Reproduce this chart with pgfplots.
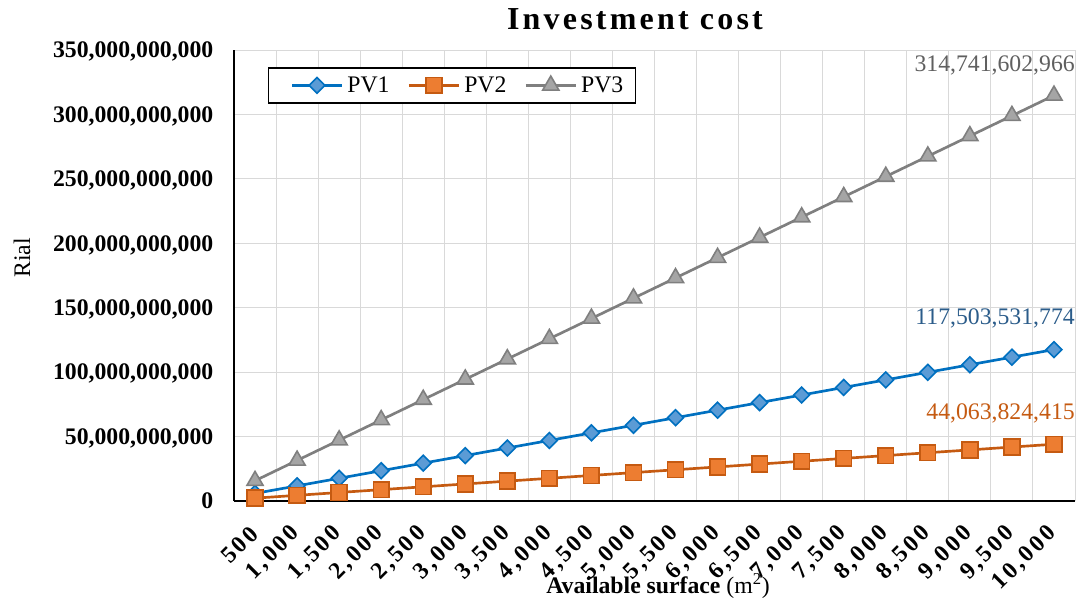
\documentclass[border=0pt]{standalone}
\usepackage{fontspec}
\setmainfont{Liberation Serif}
\usepackage{pgfplots}
\pgfplotsset{compat=1.18}
\definecolor{pvblue}{HTML}{0070C0}
\definecolor{pvbluefill}{HTML}{5B9BD5}
\definecolor{pvorange}{HTML}{C55A11}
\definecolor{pvorangefill}{HTML}{ED7D31}
\definecolor{pvgrey}{HTML}{7F7F7F}
\definecolor{pvgreyfill}{HTML}{A5A5A5}
\definecolor{gridgrey}{HTML}{D9D9D9}
\definecolor{lblblue}{HTML}{2B5C8A}
\definecolor{lblgrey}{HTML}{5F5F5F}
\pgfplotstableread{
x y
0 5875176589
1 11750353177
2 17625529766
3 23500706355
4 29375882944
5 35251059532
6 41126236121
7 47001412710
8 52876589299
9 58751765887
10 64626942476
11 70502119065
12 76377295654
13 82252472242
14 88127648831
15 94002825419
16 99878002008
17 105753178597
18 111628355185
19 117503531774
}\pvone
\pgfplotstableread{
x y
0 2203191221
1 4406382442
2 6609573662
3 8812764883
4 11015956104
5 13219147325
6 15422338545
7 17625529766
8 19828720987
9 22031912208
10 24235103428
11 26438294649
12 28641485870
13 30844677091
14 33047868311
15 35251059532
16 37454250753
17 39657441974
18 41860633194
19 44063824415
}\pvtwo
\pgfplotstableread{
x y
0 15737080148
1 31474160297
2 47211240445
3 62948320593
4 78685400742
5 94422480890
6 110159561038
7 125896641186
8 141633721335
9 157370801483
10 173107881631
11 188844961780
12 204582041928
13 220319122076
14 236056202224
15 251793282373
16 267530362521
17 283267442669
18 299004522818
19 314741602966
}\pvthree
\begin{document}
\begin{tikzpicture}
\useasboundingbox (0,0) rectangle (812.25pt,447.75pt);
\begin{axis}[
  at={(175.5pt,72pt)}, anchor=south west,
  width=630.75pt, height=338.25pt, scale only axis,
  xmin=-0.5, xmax=19.5, ymin=0, ymax=3.5e11,
  scaled y ticks=false,
  axis x line*=bottom, axis y line*=left,
  axis line style={black, line width=1.1pt, -},
  xtick={0,...,19},
  xticklabels={500,{1,000},{1,500},{2,000},{2,500},{3,000},{3,500},{4,000},{4,500},{5,000},{5,500},{6,000},{6,500},{7,000},{7,500},{8,000},{8,500},{9,000},{9,500},{10,000}},
  minor xtick={-0.5,0.5,...,19.5},
  ytick={0,5e10,1e11,1.5e11,2e11,2.5e11,3e11,3.5e11},
  yticklabels={0,{50,000,000,000},{100,000,000,000},{150,000,000,000},{200,000,000,000},{250,000,000,000},{300,000,000,000},{350,000,000,000}},
  major tick length=0pt, minor tick length=0pt,
  xmajorgrids=false, xminorgrids=true, ymajorgrids=true,
  grid style={gridgrey, line width=0.75pt},
  minor grid style={gridgrey, line width=0.75pt},
  yticklabel style={font=\fontsize{17.8}{17.8}\selectfont\bfseries, anchor=base east, xshift=-12pt, yshift=-5.8pt},
  xticklabel style={font=\fontsize{17.8}{17.8}\selectfont\bfseries\addfontfeatures{LetterSpace=12}, anchor=east, xshift=1.7pt, yshift=-19.4pt, rotate=45},
  legend style={at={(0.0404,0.962)}, anchor=north west, draw=black, line width=1.1pt,
    font=\fontsize{17.8}{17.8}\selectfont, legend columns=3, inner ysep=4.5pt, inner xsep=6pt,
    nodes={inner xsep=3pt},
    /tikz/every even column/.append style={column sep=0pt}},
  legend image code/.code={\path (0pt,0pt); \draw[mark repeat=2,mark phase=2] plot coordinates {(10.5pt,0pt) (29.25pt,0pt) (48pt,0pt)};},
  clip=false,
]
\addplot[pvblue, line width=2pt, mark=square*, mark size=4.2pt,
  mark options={rotate=45, fill=pvbluefill, draw=pvblue, line width=1.2pt}] table[x=x,y=y] {\pvone};
\addplot[pvorange, line width=2pt, mark=square*, mark size=5.9pt,
  mark options={fill=pvorangefill, draw=pvorange, line width=1.2pt}] table[x=x,y=y] {\pvtwo};
\addplot[pvgrey, line width=2pt, mark=triangle*, mark size=7pt,
  mark options={fill=pvgreyfill, draw=pvgrey, line width=1.2pt}] table[x=x,y=y] {\pvthree};
\legend{PV1,PV2,PV3}
\end{axis}
\node[anchor=base, font=\fontsize{24}{24}\selectfont\bfseries\addfontfeatures{LetterSpace=10}] at (476.25pt,425.25pt) {Investment cost};
\node[rotate=90, anchor=center, font=\fontsize{17.8}{17.8}\selectfont] at (16.5pt,254.25pt) {Rial};
\node[anchor=base, font=\fontsize{17.8}{17.8}\selectfont] at (493.5pt,3pt) {\textbf{Available surface} (m\textsuperscript{2})};
\node[anchor=base east, inner xsep=0pt, text=lblgrey, font=\fontsize{17.8}{17.8}\selectfont] at (806.25pt,393.75pt) {314,741,602,966};
\node[anchor=base east, inner xsep=0pt, text=lblblue, font=\fontsize{17.8}{17.8}\selectfont] at (806.25pt,204pt) {117,503,531,774};
\node[anchor=base east, inner xsep=0pt, text=pvorange, font=\fontsize{17.8}{17.8}\selectfont] at (806.25pt,132.75pt) {44,063,824,415};
\end{tikzpicture}
\end{document}
